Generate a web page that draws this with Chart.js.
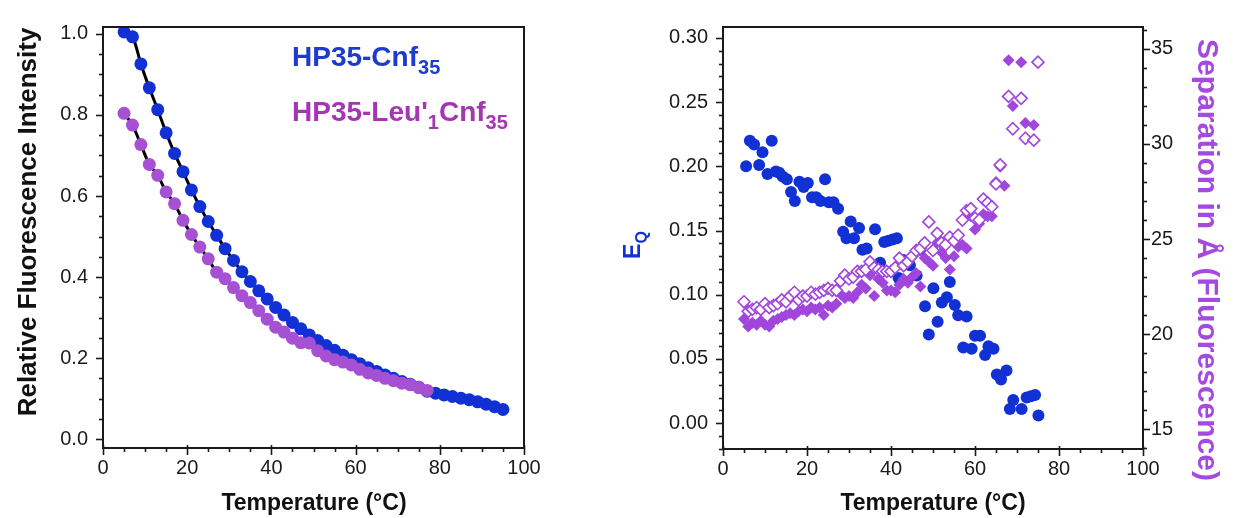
<!DOCTYPE html>
<html>
<head>
<meta charset="utf-8">
<script src="https://cdn.jsdelivr.net/npm/chart.js@4.4.1/dist/chart.umd.min.js"></script>
<style>
  html, body { margin: 0; padding: 0; background: #fff; }
  #wrap { position: relative; width: 1235px; height: 518px; overflow: hidden; }
  .panel { position: absolute; top: 0; }
  #left { left: 0; }
  #right { left: 600px; }
</style>
</head>
<body>
<div id="wrap">
  <div class="panel" id="left"><canvas id="chartIntensity" width="560" height="518"></canvas></div>
  <div class="panel" id="right"><canvas id="chartFret" width="635" height="518"></canvas></div>
</div>
<script>
// ---- intensity vs temperature (left) ----
const tempCnf = [5, 7, 9, 11, 13, 15, 17, 19, 21, 23, 25, 27, 29, 31, 33, 35, 37, 39, 41, 43, 45, 47,
  49, 51, 53, 55, 57, 59, 61, 63, 65, 67, 69, 71, 73, 75, 77, 79, 81, 83, 85, 87, 89, 91, 93, 95];
const intensityCnf = [1.005, 0.993, 0.926, 0.867, 0.813, 0.756, 0.705, 0.660, 0.615, 0.574, 0.537,
  0.503, 0.470, 0.441, 0.413, 0.389, 0.366, 0.346, 0.325, 0.306, 0.288, 0.272, 0.257, 0.243, 0.231,
  0.219, 0.207, 0.196, 0.186, 0.176, 0.167, 0.158, 0.150, 0.142, 0.135, 0.128, 0.118, 0.113, 0.109,
  0.105, 0.101, 0.097, 0.092, 0.086, 0.080, 0.073];

const tempLeu = [5, 7, 9, 11, 13, 15, 17, 19, 21, 23, 25, 27, 29, 31, 33, 35, 37, 39, 41, 43, 45, 47,
  49, 51, 53, 55, 57, 59, 61, 63, 65, 67, 69, 71, 73, 75, 77];
const intensityLeu = [0.804, 0.775, 0.727, 0.678, 0.651, 0.610, 0.581, 0.540, 0.505, 0.474, 0.445,
  0.412, 0.396, 0.374, 0.354, 0.337, 0.317, 0.296, 0.276, 0.264, 0.249, 0.238, 0.237, 0.218, 0.205,
  0.196, 0.190, 0.183, 0.172, 0.163, 0.157, 0.150, 0.144, 0.138, 0.134, 0.127, 0.120];

const tempTicks = [0, 20, 40, 60, 80, 100];
const intensityTicks = [0, 0.2, 0.4, 0.6, 0.8, 1.0];

// ---- E_Q and separation vs temperature (right) ----
const tempEq = [5.5, 6.4, 7.4, 8.6, 9.4, 10.6, 11.6, 12.6, 13.4, 14.2, 15.2, 16.2, 17.1, 18.2, 19.2,
  20.2, 21.2, 22.2, 23.2, 24.3, 25.2, 26.3, 27.4, 28.6, 29.4, 30.4, 31.2, 32.4, 33.2, 34.2, 35.4, 36.2,
  37.4, 38.4, 39.4, 40.4, 41.4, 41.8, 42.9, 44.5, 46.1, 46.9, 48.1, 49.0, 50.1, 51.1, 52.1, 53.3, 54.0,
  55.2, 56.0, 57.2, 58.0, 59.2, 60.0, 61.2, 62.4, 63.2, 64.4, 65.2, 66.2, 67.5, 68.3, 69.1, 71.1, 72.3,
  73.3, 74.3, 75.1];
const eqValues = [0.200, 0.220, 0.217, 0.201, 0.211, 0.194, 0.220, 0.196, 0.195, 0.192, 0.190, 0.180,
  0.173, 0.188, 0.184, 0.187, 0.176, 0.176, 0.173, 0.190, 0.172, 0.172, 0.167, 0.149, 0.144, 0.157,
  0.144, 0.152, 0.135, 0.136, 0.120, 0.151, 0.125, 0.141, 0.142, 0.143, 0.144, 0.113, 0.127, 0.123,
  0.115, 0.135, 0.091, 0.069, 0.105, 0.079, 0.094, 0.098, 0.110, 0.092, 0.084, 0.059, 0.083, 0.058,
  0.068, 0.068, 0.053, 0.060, 0.058, 0.038, 0.034, 0.041, 0.011, 0.018, 0.011, 0.020, 0.021, 0.022,
  0.006];

const tempSepFilled = [5, 6, 7, 8, 9, 10, 11, 12, 13, 14, 15, 16, 17, 18, 19, 20, 21, 22, 23, 24, 25,
  26, 27, 28, 29, 30, 31, 32, 33, 34, 35, 36, 37, 38, 39, 40, 41, 42, 43, 44, 45, 46, 47, 48, 49, 50,
  51, 52, 53, 54, 55, 56, 57, 58, 59, 60, 61, 62, 63, 64, 65, 66, 67, 68, 69, 71, 72, 74];
const sepFilled = [20.8, 20.4, 20.6, 20.5, 20.7, 20.5, 20.4, 20.7, 20.8, 20.9, 21.0, 21.1, 21.0, 21.2,
  21.3, 21.2, 21.4, 21.3, 21.4, 21.0, 21.5, 21.4, 21.6, 22.1, 21.9, 22.0, 21.9, 22.2, 22.6, 22.4, 23.1,
  22.0, 22.9, 22.7, 22.3, 22.3, 22.2, 22.6, 22.9, 22.7, 23.0, 23.2, 22.5, 24.0, 23.8, 23.6, 24.8, 24.3,
  24.0, 23.4, 24.1, 24.6, 24.7, 24.5, 26.2, 25.5, 25.8, 26.3, 26.2, 26.2, 28.0, 28.8, 27.8, 34.4, 32.0,
  34.3, 31.1, 31.0];

const tempSepOpen = [5, 6, 7, 8, 9, 10, 11, 12, 13, 14, 15, 16, 17, 18, 19, 20, 21, 22, 23, 24, 25, 26,
  27, 28, 29, 30, 31, 32, 33, 34, 35, 36, 37, 38, 39, 40, 41, 42, 43, 44, 45, 46, 47, 48, 49, 50, 51,
  52, 53, 54, 55, 56, 57, 58, 59, 60, 61, 62, 63, 64, 65, 66, 68, 69, 71, 72, 74, 75];
const sepOpen = [21.7, 21.2, 21.3, 21.4, 21.3, 21.6, 21.4, 21.5, 21.6, 21.8, 21.7, 22.0, 22.2, 21.8,
  22.0, 22.0, 22.2, 22.1, 22.2, 22.3, 22.4, 22.3, 22.3, 22.8, 23.1, 22.9, 23.0, 23.3, 23.3, 23.4, 23.8,
  23.5, 23.4, 23.3, 23.3, 23.3, 23.5, 24.0, 23.6, 23.8, 24.1, 24.4, 24.5, 24.8, 25.9, 24.4, 25.3, 24.8,
  24.7, 25.1, 24.9, 25.2, 26.0, 26.5, 26.6, 26.1, 26.0, 27.1, 26.9, 26.7, 27.9, 28.9, 32.5, 30.8, 32.4,
  30.3, 30.2, 34.3];

const eqTicks = [0, 0.05, 0.10, 0.15, 0.20, 0.25, 0.30];
const sepTicks = [15, 20, 25, 30, 35];

const FONT = 'Liberation Sans, Arial, Helvetica, sans-serif';
const BLUE = '#1231d4';
const PURPLE_DOT = '#a651d4';
const PURPLE_DIAMOND = '#a146dc';

function pts(xs, ys) {
  return xs.map((x, i) => ({ x: x, y: ys[i] }));
}

// text with optional subscript parts, e.g. Cnf<sub>35</sub>
function drawRich(ctx, item) {
  const size = item.size;
  const fontFor = p => `${item.weight || 'bold'} ${p.sub ? Math.round(size * 0.7) : size}px ${FONT}`;
  ctx.save();
  ctx.translate(item.x, item.y);
  ctx.rotate((item.rotate || 0) * Math.PI / 180);
  ctx.fillStyle = item.color;
  ctx.textBaseline = 'alphabetic';
  let total = 0;
  item.parts.forEach(p => { ctx.font = fontFor(p); total += ctx.measureText(p.t).width; });
  let cx = item.align === 'center' ? -total / 2 : 0;
  item.parts.forEach(p => {
    ctx.font = fontFor(p);
    ctx.fillText(p.t, cx, p.sub ? size * 0.3 : 0);
    cx += ctx.measureText(p.t).width;
  });
  ctx.restore();
}

// frame, major/minor tick marks and the free text of each panel
const axisMarks = {
  id: 'axisMarks',
  afterDraw(chart, args, opts) {
    const { ctx, chartArea: a } = chart;
    ctx.save();
    ctx.strokeStyle = '#1a1a1a';
    ctx.lineWidth = 2;
    ctx.strokeRect(a.left, a.top, a.right - a.left, a.bottom - a.top);
    ctx.lineWidth = 1.6;
    (opts.axes || []).forEach(ax => {
      const s = chart.scales[ax.id];
      const majors = s.ticks.map(t => t.value);
      for (let k = Math.ceil(s.min / ax.minor - 1e-6); k * ax.minor <= s.max + 1e-9; k++) {
        const v = k * ax.minor;
        const isMajor = majors.some(m => Math.abs(m - v) < ax.minor / 10);
        const len = isMajor ? 7 : 4;
        const p = Math.round(s.getPixelForValue(v)) + 0.5;
        ctx.beginPath();
        if (s.position === 'bottom') {
          ctx.moveTo(p, a.bottom - (isMajor ? 3 : 0));
          ctx.lineTo(p, a.bottom + len);
        } else if (s.position === 'left') {
          ctx.moveTo(a.left, p);
          ctx.lineTo(a.left - len, p);
        } else {
          ctx.moveTo(a.right, p);
          ctx.lineTo(a.right + len, p);
        }
        ctx.stroke();
      }
    });
    ctx.restore();
    (opts.texts || []).forEach(item => drawRich(ctx, item));
  }
};

function tickScale(values, digits, pad, extra) {
  return Object.assign({
    type: 'linear',
    afterBuildTicks: s => { s.ticks = values.map(v => ({ value: v })); },
    grid: { display: false, drawTicks: false },
    border: { display: false },
    ticks: {
      font: { family: FONT, size: 20 },
      color: '#1a1a1a',
      padding: pad,
      maxRotation: 0,
      callback: v => Number(v).toFixed(digits)
    }
  }, extra);
}

new Chart(document.getElementById('chartIntensity'), {
  type: 'scatter',
  data: {
    datasets: [
      { data: pts(tempLeu, intensityLeu), pointRadius: 6.5, pointBackgroundColor: PURPLE_DOT,
        pointBorderWidth: 0, order: 1 },
      { data: pts(tempCnf, intensityCnf), pointRadius: 6.5, pointBackgroundColor: BLUE,
        pointBorderWidth: 0, order: 2 },
      // fitted curves, under the points
      { data: pts(tempLeu, intensityLeu), showLine: true, borderColor: '#000', borderWidth: 3,
        pointRadius: 0, tension: 0.3, order: 3 },
      { data: pts(tempCnf, intensityCnf), showLine: true, borderColor: '#000', borderWidth: 3,
        pointRadius: 0, tension: 0.3, order: 4 }
    ]
  },
  options: {
    responsive: false,
    animation: false,
    layout: { padding: { top: 25, right: 36, left: 0, bottom: 0 } },
    plugins: {
      legend: { display: false },
      tooltip: { enabled: false },
      axisMarks: {
        axes: [{ id: 'x', minor: 5 }, { id: 'y', minor: 0.05 }],
        texts: [
          { parts: [{ t: 'Relative Fluorescence Intensity' }], x: 36, y: 222, size: 26,
            color: '#111', rotate: -90, align: 'center' },
          { parts: [{ t: 'Temperature (°C)' }], x: 314, y: 510, size: 23, color: '#111', align: 'center' },
          { parts: [{ t: 'HP35-Cnf' }, { t: '35', sub: true }], x: 292, y: 66, size: 28, color: '#1d3bcc' },
          { parts: [{ t: "HP35-Leu'" }, { t: '1', sub: true }, { t: 'Cnf' }, { t: '35', sub: true }],
            x: 292, y: 121, size: 28, color: '#a436b4' }
        ]
      }
    },
    scales: {
      x: tickScale(tempTicks, 0, 8, { min: 0, max: 100, afterFit: s => { s.height = 70; } }),
      y: tickScale(intensityTicks, 1, 15, { min: -0.0221, max: 1.0172, afterFit: s => { s.width = 103; } })
    }
  },
  plugins: [axisMarks]
});

new Chart(document.getElementById('chartFret'), {
  type: 'scatter',
  data: {
    datasets: [
      { data: pts(tempSepOpen, sepOpen), yAxisID: 'y2', pointStyle: 'rectRot', pointRadius: 6,
        pointBackgroundColor: '#fff', pointBorderColor: PURPLE_DIAMOND, pointBorderWidth: 1.6, order: 1 },
      { data: pts(tempSepFilled, sepFilled), yAxisID: 'y2', pointStyle: 'rectRot', pointRadius: 6,
        pointBackgroundColor: PURPLE_DIAMOND, pointBorderWidth: 0, order: 2 },
      { data: pts(tempEq, eqValues), yAxisID: 'y', pointRadius: 6, pointBackgroundColor: BLUE,
        pointBorderWidth: 0, order: 3 }
    ]
  },
  options: {
    responsive: false,
    animation: false,
    layout: { padding: { top: 24, right: 0, left: 0, bottom: 0 } },
    plugins: {
      legend: { display: false },
      tooltip: { enabled: false },
      axisMarks: {
        axes: [{ id: 'x', minor: 5 }, { id: 'y', minor: 0.01 }, { id: 'y2', minor: 1 }],
        texts: [
          { parts: [{ t: 'E' }, { t: 'Q', sub: true }], x: 40, y: 245, size: 23, color: BLUE,
            rotate: -90, align: 'center' },
          { parts: [{ t: 'Separation in Å (Fluorescence)' }], x: 598, y: 260, size: 30,
            color: '#a54ade', rotate: 90, align: 'center' },
          { parts: [{ t: 'Temperature (°C)' }], x: 333, y: 510, size: 23, color: '#111', align: 'center' }
        ]
      }
    },
    scales: {
      x: tickScale(tempTicks, 0, 8, { min: 0, max: 100, afterFit: s => { s.height = 69; } }),
      y: tickScale(eqTicks, 2, 15, { position: 'left', min: -0.0201, max: 0.3085,
        afterFit: s => { s.width = 123; } }),
      y2: tickScale(sepTicks, 0, 8, { position: 'right', min: 13.96, max: 36.15,
        afterFit: s => { s.width = 92; } })
    }
  },
  plugins: [axisMarks]
});
</script>
</body>
</html>
